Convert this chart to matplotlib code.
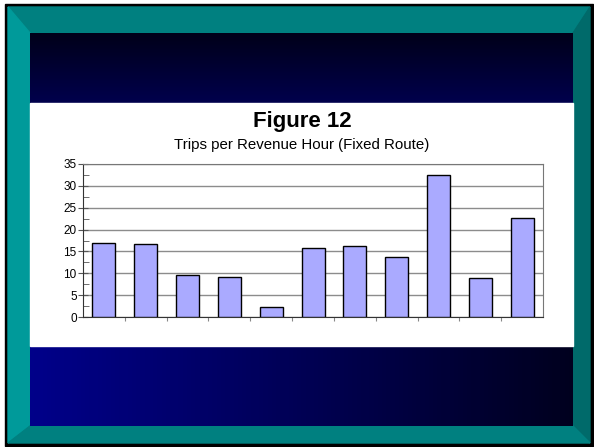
import numpy as np
import matplotlib
matplotlib.use("Agg")
from matplotlib import pyplot as plt
from matplotlib.patches import Polygon, Rectangle

plt.rcParams['font.family'] = ['Liberation Sans', 'DejaVu Sans']

# data
categories = list(range(1, 12))
trips_per_hour = [17.0, 16.7, 9.7, 9.1, 2.2, 15.7, 16.2, 13.7, 32.5, 9.0, 22.6]
y_ticks = [0, 5, 10, 15, 20, 25, 30, 35]

W, H = 594, 447
fig = plt.figure(figsize=(W / 100, H / 100), dpi=100)

# slide background drawn in pixel coordinates
bg = fig.add_axes([0, 0, 1, 1])
bg.set_xlim(0, W)
bg.set_ylim(H, 0)
bg.axis('off')

bg.add_patch(Rectangle((5, 4), 588, 442, color='black'))
# bevelled teal frame
bg.add_patch(Polygon([(8, 7), (590, 7), (573, 33), (30, 33)], color='#008080'))
bg.add_patch(Polygon([(8, 7), (30, 33), (30, 426), (8, 443)], color='#009a9a'))
bg.add_patch(Polygon([(590, 7), (590, 443), (573, 426), (573, 33)], color='#006a6a'))
bg.add_patch(Polygon([(8, 443), (30, 426), (573, 426), (590, 443)], color='#008080'))

# top band: vertical gradient, bottom band: horizontal gradient
top = np.linspace(0, 1, 64)[:, None]
top_rgb = np.dstack([np.zeros_like(top), np.zeros_like(top), 0.10 + 0.20 * top])
bg.imshow(top_rgb, extent=(30, 573, 103, 33), aspect='auto', zorder=2)
bot = np.linspace(0, 1, 128)[None, :]
bot_rgb = np.dstack([np.zeros_like(bot), np.zeros_like(bot), 0.54 - 0.42 * bot])
bg.imshow(bot_rgb, extent=(30, 573, 426, 346), aspect='auto', zorder=2)
bg.add_patch(Rectangle((30, 103), 543, 243, color='white', zorder=2))

bg.text(302, 122, 'Figure 12', ha='center', va='center', fontsize=16,
        fontweight='bold', zorder=3)
bg.text(302, 145, 'Trips per Revenue Hour (Fixed Route)', ha='center',
        va='center', fontsize=10.8, zorder=3)

# chart
ax = fig.add_axes([83 / W, (H - 317) / H, (543 - 83) / W, (317 - 164) / H])
x = np.arange(len(categories))
ax.bar(x, trips_per_hour, width=0.55, color='#aaaaff', edgecolor='black',
       linewidth=1, zorder=3)
ax.set_xlim(-0.5, len(categories) - 0.5)
ax.set_ylim(0, 35)
ax.set_yticks(y_ticks)
ax.set_yticks(np.arange(2.5, 35, 5), minor=True)
ax.yaxis.grid(True, color='#8c8c8c', linewidth=1)
ax.set_axisbelow(True)
ax.tick_params(axis='y', which='major', direction='inout', length=7,
               labelsize=8.5, pad=1, color='#555555')
ax.tick_params(axis='y', which='minor', direction='in', length=4, color='#555555')
ax.set_xticks(np.arange(0.5, len(categories) - 0.5, 1))
ax.set_xticklabels([])
ax.tick_params(axis='x', direction='out', length=3, color='#888888')
for s in ['left', 'bottom']:
    ax.spines[s].set_color('#333333')
for s in ['top', 'right']:
    ax.spines[s].set_color('#777777')

fig.savefig('out.png', dpi=100)
